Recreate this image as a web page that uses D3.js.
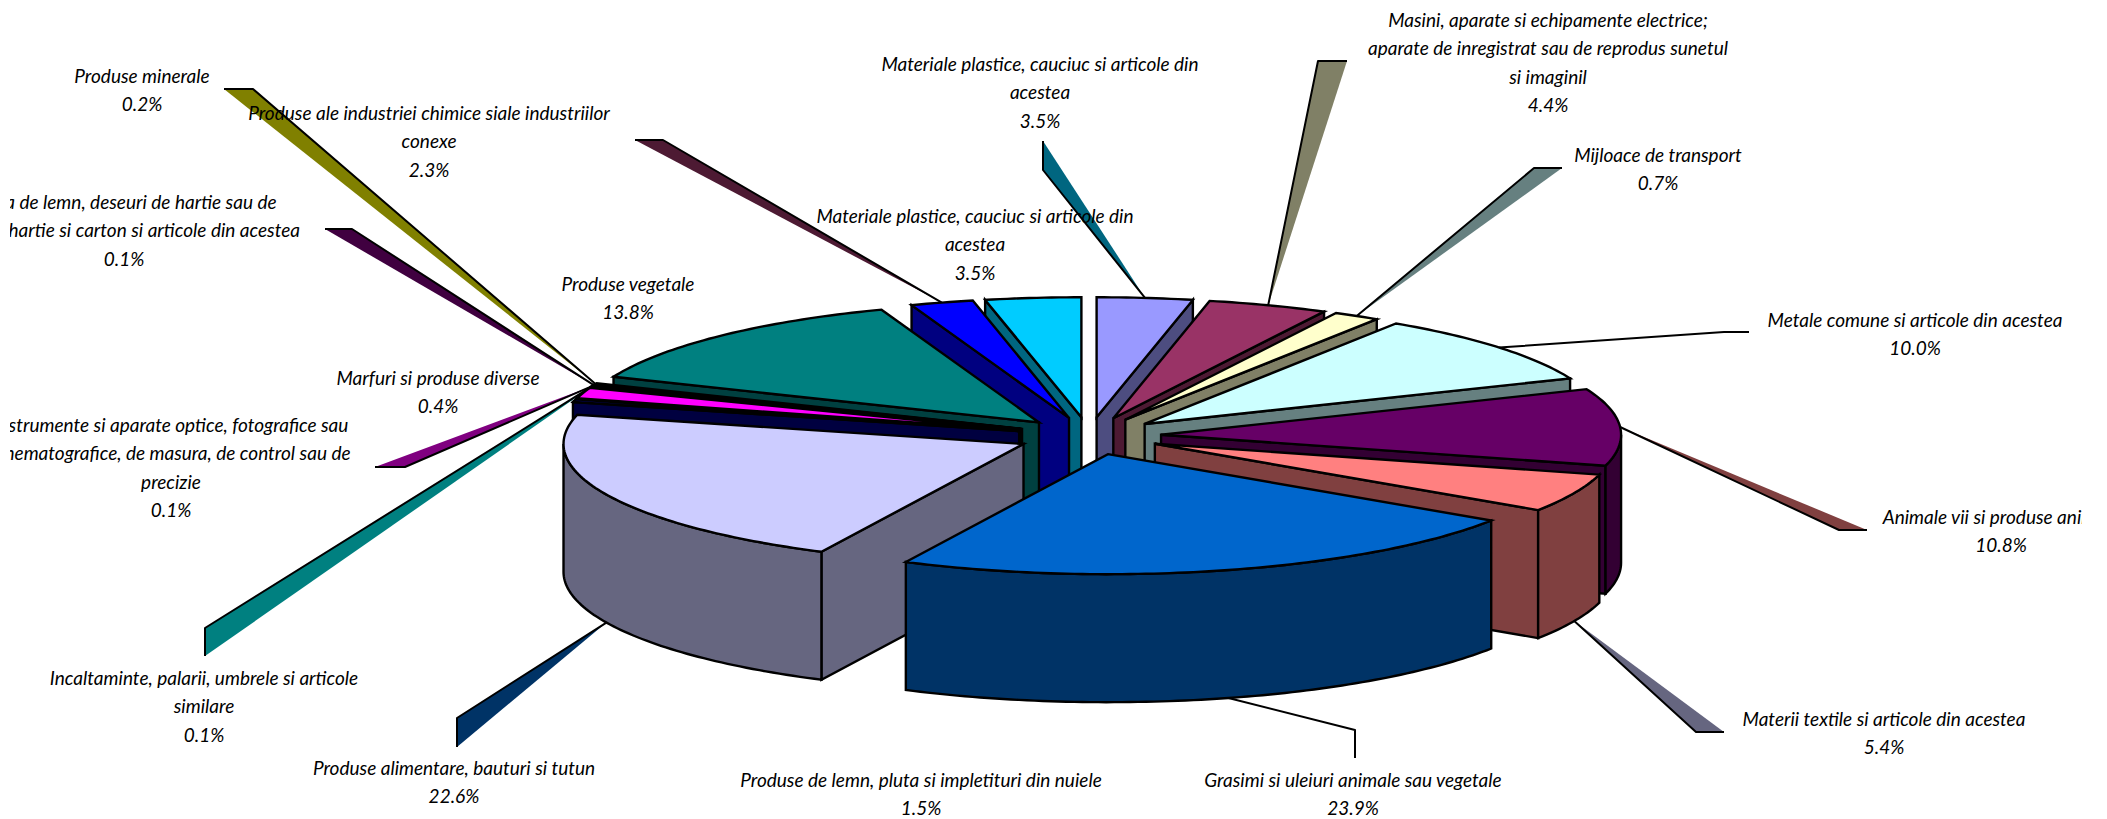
<!DOCTYPE html>
<html>
<head>
<meta charset="utf-8">
<script src="https://cdn.jsdelivr.net/npm/d3@7"></script>
<style>
    html, body { margin: 0; padding: 0; background: #fff; }
    text { font-family: Lato, "Open Sans", sans-serif; font-style: italic; font-size: 19px; fill: #000; }
</style>
</head>
<body>
<svg id="chart" width="2107" height="819"></svg>
<script>
// slices clockwise from 12 o'clock
const categories = [
    ["Materiale plastice, cauciuc si articole din", "acestea"],
    ["Masini, aparate si echipamente electrice;", "aparate de inregistrat sau de reprodus sunetul", "si imaginil"],
    ["Mijloace de transport"],
    ["Metale comune si articole din acestea"],
    ["Animale vii si produse animale"],
    ["Materii textile si articole din acestea"],
    ["Grasimi si uleiuri animale sau vegetale"],
    ["Produse alimentare, bauturi si tutun"],
    ["Marfuri si produse diverse"],
    ["Produse de lemn, pluta si impletituri din nuiele"],
    ["Incaltaminte, palarii, umbrele si articole", "similare"],
    ["Instrumente si aparate optice, fotografice sau", "cinematografice, de masura, de control sau de", "precizie"],
    ["Pasta de lemn, deseuri de hartie sau de", "carton; hartie si carton si articole din acestea"],
    ["Produse minerale"],
    ["Produse vegetale"],
    ["Produse ale industriei chimice siale industriilor", "conexe"],
    ["Materiale plastice, cauciuc si articole din", "acestea"]
];
const percentLabels = ["3.5%", "4.4%", "0.7%", "10.0%", "10.8%", "5.4%", "23.9%", "22.6%", "0.4%", "1.5%", "0.1%", "0.1%", "0.1%", "0.2%", "13.8%", "2.3%", "3.5%"];
// slice sizes
const values = [3.5, 4.4, 1.7, 10, 10.8, 5.4, 23.9, 22.6, 0.4, 1.5, 0.1, 0.1, 0.1, 0.2, 13.8, 2.3, 3.5];

const topColors = ["#9999ff", "#993366", "#ffffcc", "#ccffff", "#660066", "#ff8080", "#0066cc", "#ccccff", "#000080", "#ff00ff", "#ffff00", "#00ffff", "#800080", "#800000", "#008080", "#0000ff", "#00ccff"];
const sideColors = ["#4d4d80", "#4d1a33", "#808066", "#668080", "#330033", "#804040", "#003366", "#666680", "#000040", "#800080", "#808000", "#008080", "#400040", "#400000", "#004040", "#000080", "#006680"];

// label centre x, first line centre y
const labelPos = [
    [1040, 63], [1548, 19], [1658, 154], [1915, 319], [2001, 516], [1884, 718], [1353, 779], [454, 767],
    [438, 377], [921, 779], [204, 677], [171, 424], [124, 201], [142, 75], [628, 283], [429, 112], [975, 215]
];
// leader lines: slice index, elbow, end next to the label, ribbon colour
const leaders = [
    [0, [1043, 170], [1043, 141], "#006680"],
    [1, [1318, 61], [1347, 61], "#808066"],
    [2, [1534, 168], [1562, 168], "#668080"],
    [3, [1724, 332], [1749, 332], "#fff"],
    [4, [1839, 530], [1867, 530], "#804040"],
    [5, [1696, 732], [1724, 732], "#666680"],
    [6, [1355, 730], [1355, 758], "#fff"],
    [7, [457, 718], [457, 747], "#003366"],
    [10, [205, 628], [205, 656], "#008080"],
    [11, [405, 467], [375, 467], "#800080"],
    [12, [352, 229], [325, 229], "#400040"],
    [13, [253, 89], [224, 89], "#808000"],
    [15, [663, 140], [635, 140], "#4d1a33"]
];

const lineHeight = 28.5;
const depth = 128;
const explode = 0.157;
const deg = Math.PI / 180;

const svg = d3.select("#chart");
svg.append("defs").append("clipPath").attr("id", "plot")
    .append("rect").attr("x", 10).attr("y", 0).attr("width", 2072).attr("height", 819);

// flat ellipse: unit circle coordinates to the page
const xScale = d3.scaleLinear().domain([-1, 1]).range([1089 - 460, 1089 + 460]);
const yScale = d3.scaleLinear().domain([-1, 1]).range([436 - 120, 436 + 120]);

const arcs = d3.pie().sort(null).value(d => d).startAngle(0).endAngle(2 * Math.PI)(values);

function apex(d) {
    const mid = (d.startAngle + d.endAngle) / 2;
    return [explode * Math.sin(mid), -explode * Math.cos(mid)];
}
function rim(d, a, drop = 0) {
    const c = apex(d);
    return [xScale(c[0] + Math.sin(a)), yScale(c[1] - Math.cos(a)) + drop];
}
function rimPoints(a0, a1, d, drop = 0) {
    const n = Math.max(2, Math.ceil((a1 - a0) / (1 * deg)));
    return d3.range(n + 1).map(i => rim(d, a0 + (a1 - a0) * i / n, drop));
}
function centre(d, drop = 0) {
    const c = apex(d);
    return [xScale(c[0]), yScale(c[1]) + drop];
}
const closed = d3.line().curve(d3.curveLinearClosed);

function drawSlice(g, d) {
    const top = topColors[d.index], side = sideColors[d.index];
    const wall = a => [centre(d), rim(d, a), rim(d, a, depth), centre(d, depth)];
    if (Math.sin(d.startAngle) < -1e-6) g.append("path").attr("d", closed(wall(d.startAngle))).attr("fill", side);
    if (Math.sin(d.endAngle) > 1e-6) g.append("path").attr("d", closed(wall(d.endAngle))).attr("fill", side);
    // outer wall, only the part turned to the viewer
    const a0 = Math.max(d.startAngle, 90 * deg), a1 = Math.min(d.endAngle, 270 * deg);
    if (a1 > a0) {
        const pts = rimPoints(a0, a1, d).concat(rimPoints(a0, a1, d, depth).reverse());
        g.append("path").attr("d", closed(pts)).attr("fill", side);
    }
    const face = [centre(d)].concat(rimPoints(d.startAngle, d.endAngle, d));
    g.append("path").attr("d", closed(face)).attr("fill", top);
}

// leaders go under the pie
const leaderG = svg.append("g").attr("stroke-linejoin", "round");
leaders.forEach(([i, elbow, end, color]) => {
    const d = arcs[i];
    const mid = (d.startAngle + d.endAngle) / 2;
    const front = Math.cos(mid) < -0.1;
    const tip = rim(d, mid, front ? depth : 0);
    leaderG.append("path").attr("d", closed([tip, elbow, end])).attr("fill", color);
    leaderG.append("path").attr("d", d3.line()([tip, elbow, end]))
        .attr("fill", "none").attr("stroke", "#000").attr("stroke-width", 2);
});

// back to front: right side clockwise, left side anticlockwise, then the two big front slices
const drawOrder = [0, 1, 2, 3, 4, 5, 16, 15, 14, 13, 12, 11, 10, 9, 8, 7, 6];
const pieG = svg.append("g").attr("stroke", "#000").attr("stroke-width", 2.4).attr("stroke-linejoin", "miter");
drawOrder.forEach(i => drawSlice(pieG.append("g"), arcs[i]));

// labels
const labelG = svg.append("g").attr("clip-path", "url(#plot)");
categories.forEach((lines, i) => {
    const [x, y] = labelPos[i];
    lines.concat([percentLabels[i]]).forEach((t, k) => {
        labelG.append("text").attr("x", x).attr("y", y + k * lineHeight)
            .attr("text-anchor", "middle").attr("dominant-baseline", "central").text(t);
    });
});
</script>
</body>
</html>
